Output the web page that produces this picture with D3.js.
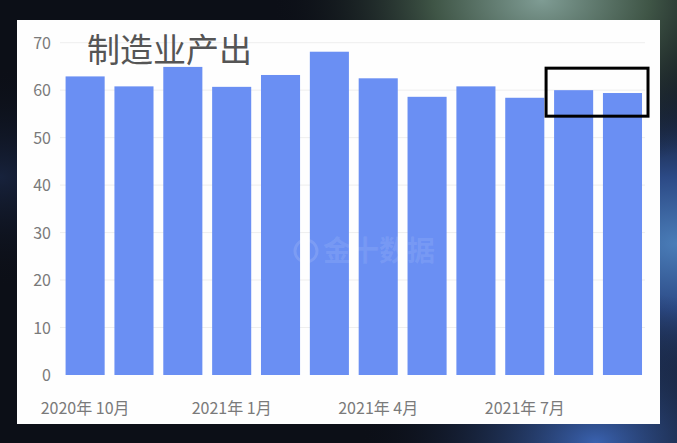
<!DOCTYPE html>
<html><head><meta charset="utf-8">
<script src="https://cdn.jsdelivr.net/npm/d3@7"></script>
<style>
html,body{margin:0;padding:0;background:#0c0f17;}
svg{display:block;}
text{font-family:"Noto Sans CJK SC","Noto Sans",sans-serif;}
</style></head>
<body>
<svg id="c" width="677" height="443"></svg>
<script>
const categories = ["2020年10月","2020年11月","2020年12月","2021年1月","2021年2月","2021年3月","2021年4月","2021年5月","2021年6月","2021年7月","2021年8月","2021年9月"];
const values = [62.9, 60.8, 64.9, 60.7, 63.2, 68.1, 62.5, 58.6, 60.8, 58.4, 60.0, 59.4];
const tickLabels = {"2020年10月":"2020年 10月","2021年1月":"2021年 1月","2021年4月":"2021年 4月","2021年7月":"2021年 7月"};
const yTicks = [0,10,20,30,40,50,60,70];
const title = "制造业产出";
const watermark = "金十数据";
const highlighted = ["2021年8月","2021年9月"];

const svg = d3.select("#c");
const W = 677, H = 443;
const defs = svg.append("defs");

// background glows
const g1 = defs.append("radialGradient").attr("id","glowTR").attr("cx","0.8").attr("cy","0.0").attr("r","0.4");
g1.append("stop").attr("offset","0").attr("stop-color","#7f9c94");
g1.append("stop").attr("offset","0.4").attr("stop-color","#3f5546");
g1.append("stop").attr("offset","1").attr("stop-color","#0c0f17").attr("stop-opacity","0");
const g2 = defs.append("radialGradient").attr("id","glowR").attr("cx","1.0").attr("cy","0.55").attr("r","0.5");
g2.append("stop").attr("offset","0").attr("stop-color","#4a7db8");
g2.append("stop").attr("offset","0.3").attr("stop-color","#2c4a86");
g2.append("stop").attr("offset","1").attr("stop-color","#0c0f17").attr("stop-opacity","0");
const g3 = defs.append("radialGradient").attr("id","glowBR").attr("cx","0.88").attr("cy","1.0").attr("r","0.35");
g3.append("stop").attr("offset","0").attr("stop-color","#3a62b0");
g3.append("stop").attr("offset","1").attr("stop-color","#0c0f17").attr("stop-opacity","0");
const g4 = defs.append("radialGradient").attr("id","glowL").attr("cx","0.0").attr("cy","0.4").attr("r","0.25");
g4.append("stop").attr("offset","0").attr("stop-color","#17223c");
g4.append("stop").attr("offset","1").attr("stop-color","#0c0f17").attr("stop-opacity","0");

svg.append("rect").attr("width",W).attr("height",H).attr("fill","#0c0f17");
svg.append("rect").attr("width",W).attr("height",H).attr("fill","url(#glowL)");
svg.append("rect").attr("width",W).attr("height",H).attr("fill","url(#glowR)");
svg.append("rect").attr("width",W).attr("height",H).attr("fill","url(#glowBR)");
svg.append("rect").attr("width",W).attr("height",H).attr("fill","url(#glowTR)");

// white panel
svg.append("rect").attr("x",17).attr("y",20).attr("width",643).attr("height",404).attr("fill","#fefefe");

const x = d3.scaleBand().domain(categories).range([60.7, 646.9]).paddingInner(0.2).paddingOuter(0.1);
const y = d3.scaleLinear().domain([0,70]).range([375, 42.7]);

// gridlines
svg.append("g").selectAll("line").data(yTicks.filter(d=>d>0)).join("line")
  .attr("x1",60).attr("x2",645)
  .attr("y1",d=>y(d)).attr("y2",d=>y(d))
  .attr("stroke","#eeeeee").attr("stroke-width",1);

// y axis labels
const yAxis = d3.axisLeft(y).tickValues(yTicks).tickSize(0).tickPadding(0);
const ya = svg.append("g").attr("transform","translate(51,0)").call(yAxis);
ya.select(".domain").remove();
ya.selectAll("text").attr("fill","#7a7a7a").attr("font-size",16).attr("dy","0.36em")
  .style("font-family","'Noto Sans CJK SC','Noto Sans',sans-serif");

// bars
svg.append("g").selectAll("rect").data(categories).join("rect")
  .attr("x",d=>x(d)).attr("width",x.bandwidth())
  .attr("y",(d,i)=>y(values[i])).attr("height",(d,i)=>y(0)-y(values[i]))
  .attr("fill","#6a8ff3");

// watermark
svg.append("circle").attr("cx",306).attr("cy",251).attr("r",11)
  .attr("fill","none").attr("stroke","#ffffff").attr("stroke-opacity",0.12).attr("stroke-width",3);
svg.append("text").attr("x",323).attr("y",261).text(watermark)
  .attr("font-size",28).attr("font-weight","bold").attr("fill","#ffffff").attr("fill-opacity",0.1);

// x axis labels
const xAxis = d3.axisBottom(x).tickValues(Object.keys(tickLabels)).tickFormat(d=>tickLabels[d]).tickSize(0).tickPadding(0);
const xa = svg.append("g").attr("transform","translate(0,403)").call(xAxis);
xa.select(".domain").remove();
xa.selectAll("text").attr("fill","#7a7a7a").attr("font-size",16).attr("dy","0.71em")
  .style("font-family","'Noto Sans CJK SC','Noto Sans',sans-serif");

// title
svg.append("text").attr("x",87).attr("y",62).text(title)
  .attr("font-size",33).attr("fill","#555");

// highlight box
const hx0 = x(highlighted[0]) - 8, hx1 = x(highlighted[1]) + x.bandwidth() + 6;
const hy0 = y(d3.max(highlighted, h=>values[categories.indexOf(h)])) - 22;
svg.append("rect").attr("x",hx0).attr("y",hy0).attr("width",hx1-hx0).attr("height",48)
  .attr("fill","none").attr("stroke","#000").attr("stroke-width",3);
</script>
</body></html>
